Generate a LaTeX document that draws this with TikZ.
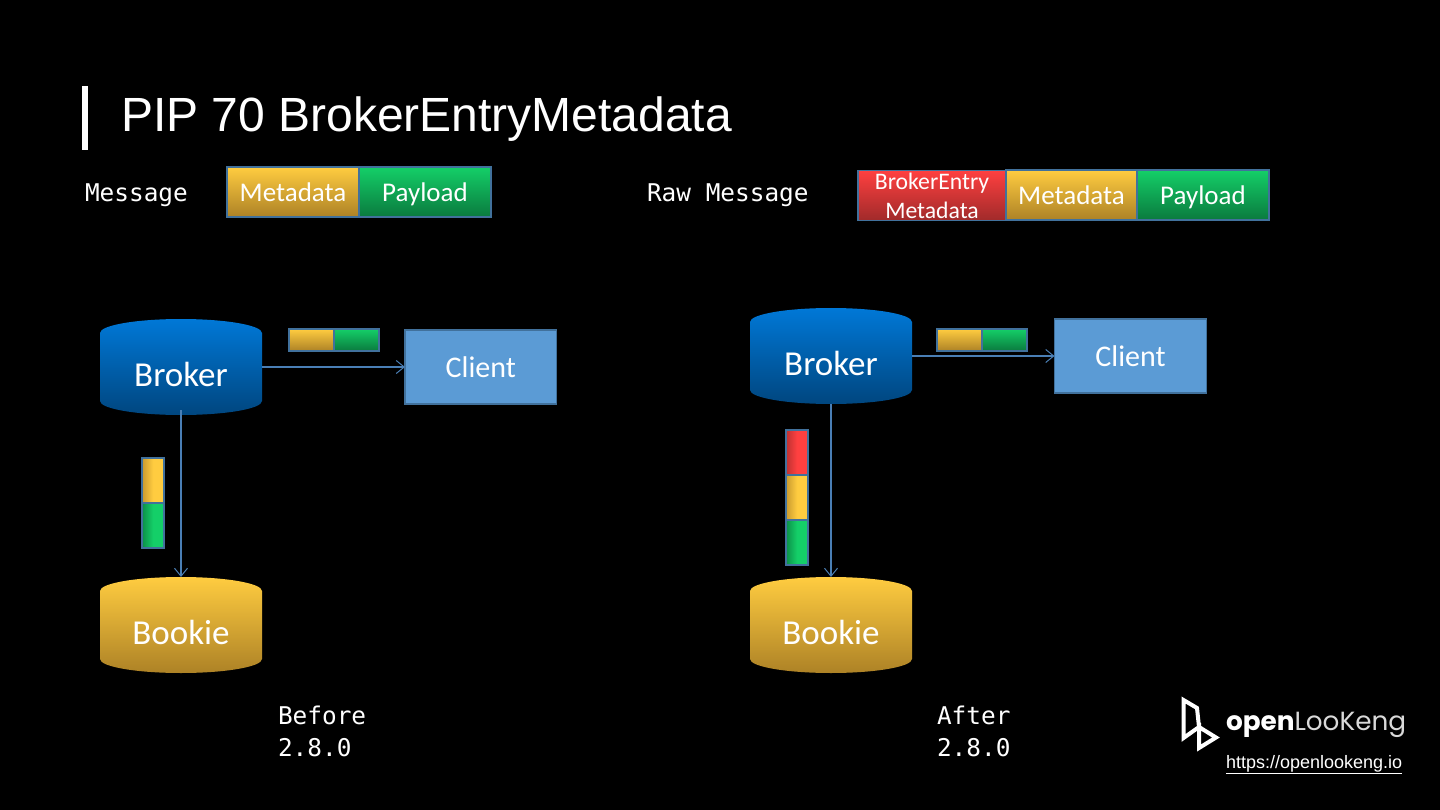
\documentclass[tikz,border=0pt]{standalone}
\usepackage{fontspec}
\usetikzlibrary{calc,arrows.meta}
\setmainfont{Carlito}
\newfontfamily\titlefont{Liberation Sans}
\newfontfamily\codefont{DejaVu Sans Mono}
\newfontfamily\logofont{Poppins}
\definecolor{edgeblue}{HTML}{41719C}
\definecolor{linkblue}{HTML}{5B9BD5}
\definecolor{flowblue}{HTML}{4A7FB5}
\definecolor{yelA}{HTML}{FFCC40}\definecolor{yelB}{HTML}{F2BE3C}\definecolor{yelC}{HTML}{AD8226}
\definecolor{grnA}{HTML}{14CF68}\definecolor{grnB}{HTML}{0FB058}\definecolor{grnC}{HTML}{0A7A3E}
\definecolor{redA}{HTML}{FF4040}\definecolor{redB}{HTML}{E83C3C}\definecolor{redC}{HTML}{A02A2A}
\definecolor{bluA}{HTML}{0078D7}\definecolor{bluB}{HTML}{006CC2}\definecolor{bluC}{HTML}{00467F}
\tikzset{
  x=1pt,y=-1pt,
  every node/.style={inner sep=0pt,outer sep=0pt},
  yel/.style={top color=yelA,middle color=yelB,bottom color=yelC},
  grn/.style={top color=grnA,middle color=grnB,bottom color=grnC},
  redd/.style={top color=redA,middle color=redB,bottom color=redC},
  blu/.style={top color=bluA,middle color=bluB,bottom color=bluC},
  msgbox/.style={draw=edgeblue,line width=1.2pt,text=white,align=center,text height=26pt,text depth=6pt,font=\fontsize{27}{29}\selectfont},
  entrybox/.style={draw=edgeblue,line width=1.2pt,text=white,align=center,font=\fontsize{23.7}{29}\selectfont},
  chipH/.style={draw=edgeblue,line width=1.2pt},
  chipV/.style={draw=edgeblue,line width=1.2pt},
  dbtext/.style={text=white,font=\fontsize{35}{38}\selectfont},
  clientbox/.style={draw=edgeblue,line width=1.2pt,fill=linkblue,text=white,text height=28pt,text depth=6.6pt,font=\fontsize{30}{33}\selectfont},
  code/.style={text=white,anchor=base west,font=\codefont\fontsize{24.4}{32}\selectfont},
  flow/.style={draw=flowblue,line width=1.1pt,-{Straight Barb[length=8pt,width=13pt,line width=1pt]}},
}
% barrel: centre x, top y, bottom y, shade style
\newcommand{\barrel}[4]{%
  \path[#4] ({#1-81},{#2+14}) arc[start angle=180,end angle=0,x radius=81,y radius=-14]
    -- ({#1+81},{#3-14}) arc[start angle=0,end angle=-180,x radius=81,y radius=-14] -- cycle;}
\newcommand{\dblabel}[1]{\raisebox{-19.5pt}[0pt][0pt]{#1}}
% rectangle with a shading
\newcommand{\chipH}[5]{\path[chipH,#5] (#1,#3) rectangle (#2,#4);}
\newcommand{\chipV}[5]{\path[chipV,left color=#5C!60!#5B,right color=#5A,middle color=#5A] (#1,#3) rectangle (#2,#4);}
\begin{document}
\begin{tikzpicture}
\useasboundingbox (0,0) rectangle (1440,810);
\fill[black] (0,0) rectangle (1440,810);
% title
\fill[white] (82,86) rectangle (88,150);
\node[anchor=base west,text=white,font=\titlefont\fontsize{48}{50}\selectfont] (title) at (121,132) {PIP 70 BrokerEntryMetadata};
% top strips
\node[code] (msg) at (85,201.5) {Message};
\node[msgbox,yel,minimum width=132,minimum height=50] (m1) at (293,192) {Metadata};
\node[msgbox,grn,minimum width=132,minimum height=50] (m2) at (425,192) {Payload};
\node[code] (raw) at (647,201.5) {Raw Message};
\node[entrybox,redd,minimum width=148,minimum height=50] (r0) at (932,195.5) {BrokerEntry\\Metadata};
\node[msgbox,yel,minimum width=131,minimum height=50] (r1) at (1071.5,195) {Metadata};
\node[msgbox,grn,minimum width=132,minimum height=50] (r2) at (1203,195) {Payload};
% left diagram
\barrel{181}{319}{415}{blu}
\barrel{181}{577}{673}{yel}
\node[dbtext,minimum width=162,minimum height=96] (broker1) at (181,367) {\dblabel{Broker}};
\node[dbtext,minimum width=162,minimum height=96] (bookie1) at (181,625) {\dblabel{Bookie}};
\node[clientbox,minimum width=151.5,minimum height=74] (client1) at (480.75,367) {Client};
\draw[flow] (broker1.east) -- (client1.west);
\draw[flow] ($(broker1.south)+(0,-5)$) -- (bookie1.north);
\chipH{289}{334}{329}{351}{yel}
\chipH{334}{379}{329}{351}{grn}
\chipV{142}{164}{458}{503}{yel}
\chipV{142}{164}{503}{548}{grn}
% right diagram
\barrel{831}{308}{404}{blu}
\barrel{831}{577}{673}{yel}
\node[dbtext,minimum width=162,minimum height=96] (broker2) at (831,356) {\dblabel{Broker}};
\node[dbtext,minimum width=162,minimum height=96] (bookie2) at (831,625) {\dblabel{Bookie}};
\node[clientbox,minimum width=152,minimum height=74] (client2) at (1130.5,356) {Client};
\draw[flow] (broker2.east) -- (client2.west);
\draw[flow] (broker2.south) -- (bookie2.north);
\chipH{937}{982}{329}{351}{yel}
\chipH{982}{1027}{329}{351}{grn}
\chipV{786}{808}{430}{475}{red}
\chipV{786}{808}{475}{520}{yel}
\chipV{786}{808}{520}{565}{grn}
% captions
\node[code,align=left,anchor=north west] (before) at (278,706) {Before\\2.8.0};
\node[code,align=left,anchor=north west] (after) at (937,706) {After\\2.8.0};
% logo
\draw[white,line width=4pt,miter limit=6] (1183.5,700) -- (1183.5,738) -- (1199,727) -- (1199,748) -- (1216,737.5) -- (1199,727) -- (1197,708) -- cycle;
\node[anchor=base west,text=white,font=\logofont\fontsize{26.3}{30}\selectfont] (logo) at (1226,730) {\textbf{open}\textcolor{white!85!black}{LooKeng}};
\node[anchor=base west,text=white,font=\titlefont\fontsize{18}{20}\selectfont] (url) at (1226,768) {\underline{https://openlookeng.io}};
\end{tikzpicture}
\end{document}
